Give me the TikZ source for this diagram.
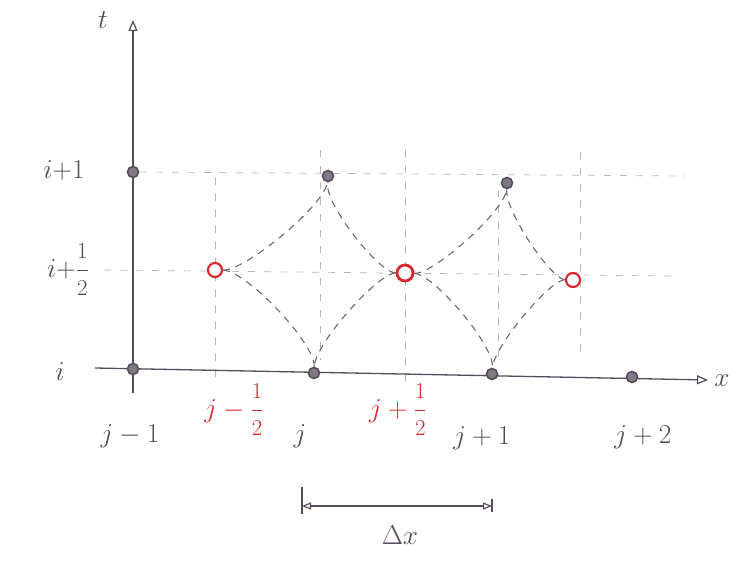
\documentclass[tikz,border=0pt]{standalone}
\usetikzlibrary{arrows.meta,calc}
\definecolor{inkc}{RGB}{85,75,90}
\definecolor{gridc}{RGB}{185,180,185}
\definecolor{redc}{RGB}{215,40,45}
\newcommand{\hf}{\frac{\scriptstyle 1}{\scriptstyle 2}}
\begin{document}
\begin{tikzpicture}[x=1pt,y=-1pt,
  ink/.style={draw=inkc, line width=1.3pt},
  gridln/.style={draw=gridc, line width=0.7pt, dash pattern=on 7pt off 9pt},
  crv/.style={draw=inkc!85, line width=1.1pt, dash pattern=on 7pt off 6pt},
  blk/.style={circle, draw=inkc, fill=inkc!75, line width=1.6pt, minimum size=11pt, inner sep=0pt},
  redpt/.style={circle, draw=redc, line width=2.2pt, fill=white, minimum size=14pt, inner sep=0pt},
  lbl/.style={text=inkc, font=\fontsize{24.88}{30}\selectfont, inner sep=1pt, scale=1.1},
  rlbl/.style={text=redc, font=\fontsize{24.88}{30}\selectfont, inner sep=1pt, scale=1.1},
  tip/.style={-{Triangle[open, length=11pt, width=9pt, line width=1.2pt]}}
]
\useasboundingbox[fill=white] (0,0) rectangle (734,561);

% grid
\draw[gridln] (140,172) -- (685,176);
\draw[gridln] (104,270) -- (672,276);
\draw[gridln] (215,178) -- (215,386);
\draw[gridln] (320,150) -- (320,360);
\draw[gridln] (405,150) -- (405,386);
\draw[gridln] (498,190) -- (498,362);
\draw[gridln] (580,152) -- (580,352);

% axes
\coordinate (xs) at (95,368);
\coordinate (xe) at (708,380);
\coordinate (ts) at (133,393);
\coordinate (te) at (133,20);
\draw[ink, tip] (xs) -- (xe);
\draw[ink, tip] (ts) -- (te);

% centres of the cells
\coordinate (P1) at (318,272);
\coordinate (P2) at (500,277);

% points
\node[blk] (A) at (133,369) {};
\node[blk] (B) at (133,172) {};
\node[blk] (C) at (328,176) {};
\node[blk] (D) at (314,373) {};
\node[blk] (E) at (507,183) {};
\node[blk] (F) at (492,374) {};
\node[blk] (G) at (632,377) {};
\node[redpt] (R1) at (215,270) {};
\node[redpt, minimum size=16pt, line width=2.8pt] (R2) at (405,273) {};
\node[redpt] (R3) at (573,280) {};

% curved dashed characteristics
\def\bw{0.3}
\draw[crv] (R1) .. controls ($(R1.center)!\bw!(P1)$) and ($(C.center)!\bw!(P1)$) .. (C);
\draw[crv] (R1) .. controls ($(R1.center)!\bw!(P1)$) and ($(D.center)!\bw!(P1)$) .. (D);
\draw[crv] (R2) .. controls ($(R2.center)!\bw!(P1)$) and ($(C.center)!\bw!(P1)$) .. (C);
\draw[crv] (R2) .. controls ($(R2.center)!\bw!(P1)$) and ($(D.center)!\bw!(P1)$) .. (D);
\draw[crv] (R2) .. controls ($(R2.center)!\bw!(P2)$) and ($(E.center)!\bw!(P2)$) .. (E);
\draw[crv] (R2) .. controls ($(R2.center)!\bw!(P2)$) and ($(F.center)!\bw!(P2)$) .. (F);
\draw[crv] (R3) .. controls ($(R3.center)!\bw!(P2)$) and ($(E.center)!\bw!(P2)$) .. (E);
\draw[crv] (R3) .. controls ($(R3.center)!\bw!(P2)$) and ($(F.center)!\bw!(P2)$) .. (F);

% axis labels
\node[lbl] (tl) at (103,20) {$t$};
\node[lbl] (xl) at (722,381) {$x$};
\node[lbl] (i1) at (64,170) {$i{+}1$};
\node[lbl] (ih) at (68,270) {$\displaystyle i{+}\hf$};
\node[lbl] (i0) at (60,372) {$i$};
\node[lbl] (jm1) at (130,436) {$j-1$};
\node[rlbl] (jmh) at (234,410) {$\displaystyle j-\hf$};
\node[lbl] (j0) at (300,436) {$j$};
\node[rlbl] (jph) at (398,410) {$\displaystyle j+\hf$};
\node[lbl] (jp1) at (482,438) {$j+1$};
\node[lbl] (jp2) at (643,437) {$j+2$};

% Delta x
\coordinate (d1) at (302,506);
\coordinate (d2) at (492,506);
\draw[ink, line width=1.1pt] (302,487) -- (302,514);
\draw[ink, line width=1.1pt] (492,499) -- (492,512);
\draw[ink, line width=1.1pt, {Triangle[open, length=9pt, width=7pt]}-{Triangle[open, length=9pt, width=7pt]}] (d1) -- (d2);
\node[lbl] (dx) at (400,535) {$\Delta x$};
\end{tikzpicture}
\end{document}
